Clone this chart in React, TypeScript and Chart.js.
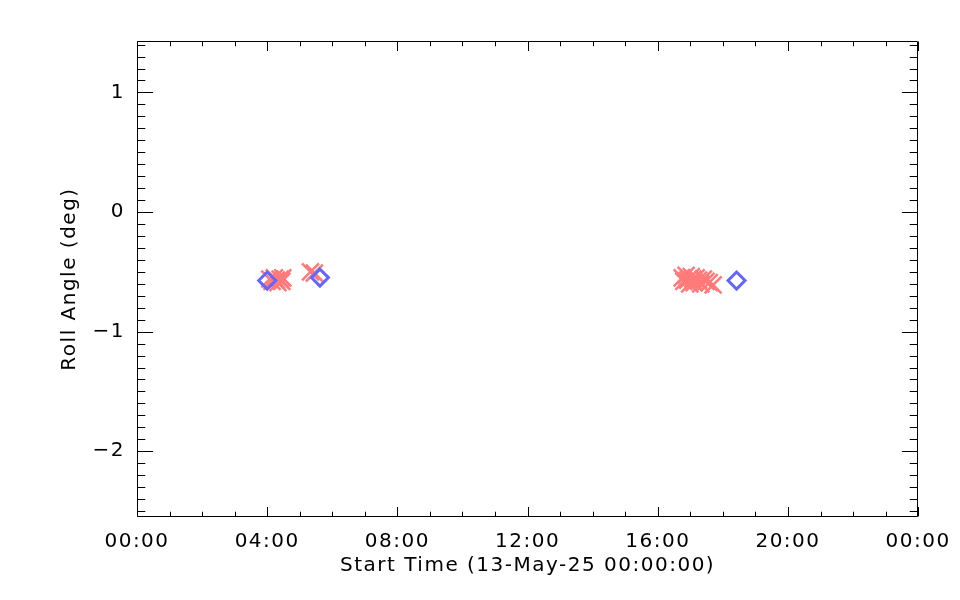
import React, { useEffect, useRef } from "react";
import { Chart, registerables } from "chart.js";

Chart.register(...registerables);

// Roll angle measurements (hours since 13-May-25 00:00:00, degrees)
const crossHours = [4.08, 4.15, 4.22, 4.28, 4.33, 4.4, 4.45, 4.48, 5.33, 5.45, 16.75, 16.8, 16.87, 16.92, 16.98, 17.03, 17.08, 17.12, 17.18, 17.25, 17.32, 17.4, 17.48, 17.58, 17.7];
const crossRoll = [-0.56, -0.58, -0.55, -0.57, -0.59, -0.56, -0.58, -0.55, -0.5, -0.51, -0.55, -0.58, -0.53, -0.57, -0.6, -0.54, -0.56, -0.59, -0.55, -0.57, -0.6, -0.56, -0.58, -0.59, -0.61];
const diamondHours = [4.0, 5.62, 18.42];
const diamondRoll = [-0.573, -0.548, -0.573];

const xTickValues = [0, 4, 8, 12, 16, 20, 24];
const xTickLabels = ["00:00", "04:00", "08:00", "12:00", "16:00", "20:00", "00:00"];
const yTickValues = [-2, -1, 0, 1];
const yTickLabels = ["\u22122", "\u22121", "0", "1"];
const xRange = [0, 24];
const yRange = [-2.55, 1.43];

const FONT = "'DejaVu Sans', sans-serif";

const spacing = {
  id: "spacing",
  beforeDraw(chart: any) {
    chart.ctx.letterSpacing = "1.5px";
  },
  afterDraw(chart: any) {
    chart.ctx.letterSpacing = "0px";
  },
};

const frameTicks = {
  id: "frameTicks",
  afterDraw(chart: any) {
    const { ctx, chartArea, scales } = chart;
    const { left, right, top, bottom } = chartArea;
    const x = scales.x;
    const y = scales.y;
    ctx.save();
    ctx.strokeStyle = "#000";
    ctx.lineWidth = 1;
    const L = Math.round(left) + 0.5;
    const R = Math.round(right) - 0.5;
    const T = Math.round(top) + 0.5;
    const B = Math.round(bottom) - 0.5;
    ctx.beginPath();
    ctx.rect(L, T, R - L, B - T);
    const h = bottom - top;
    const w = right - left;
    for (let k = 0; k <= 24; k++) {
      const px = Math.round(x.getPixelForValue(k)) + 0.5;
      const len = k % 4 === 0 ? 0.02 * h : 0.01 * h;
      ctx.moveTo(px, B);
      ctx.lineTo(px, B - len);
      ctx.moveTo(px, T);
      ctx.lineTo(px, T + len);
    }
    for (let k = -25; k <= 14; k++) {
      const py = Math.round(y.getPixelForValue(k / 10)) + 0.5;
      const len = k % 10 === 0 ? 0.02 * w : 0.01 * w;
      ctx.moveTo(L, py);
      ctx.lineTo(L + len, py);
      ctx.moveTo(R, py);
      ctx.lineTo(R - len, py);
    }
    ctx.stroke();
    ctx.restore();
  },
};

export default function App() {
  const ref = useRef<HTMLCanvasElement>(null);
  useEffect(() => {
    if (!ref.current) return;
    const chart = new Chart(ref.current, {
      type: "scatter",
      data: {
        datasets: [
          {
            label: "diamonds",
            data: diamondHours.map((h, i) => ({ x: h, y: diamondRoll[i] })),
            pointStyle: "rectRot",
            pointRadius: 8.5,
            pointBorderWidth: 3,
            borderColor: "rgb(100,100,255)",
            backgroundColor: "rgba(0,0,0,0)",
            order: 0,
          },
          {
            label: "crosses",
            data: crossHours.map((h, i) => ({ x: h, y: crossRoll[i] })),
            pointStyle: "crossRot",
            pointRadius: 12,
            pointBorderWidth: 2.5,
            borderColor: "rgb(255,122,122)",
            backgroundColor: "rgb(255,122,122)",
            order: 1,
          },
        ],
      },
      options: {
        animation: false,
        responsive: false,
        events: [],
        layout: { padding: { top: 41, right: 41, left: 0, bottom: 0 } },
        plugins: { legend: { display: false }, tooltip: { enabled: false } },
        scales: {
          x: {
            type: "linear",
            min: xRange[0],
            max: xRange[1],
            grid: { display: false, drawTicks: false },
            border: { display: false },
            afterBuildTicks: (s: any) => {
              s.ticks = xTickValues.map((v) => ({ value: v }));
            },
            afterFit: (s: any) => {
              s.height = 83;
            },
            ticks: {
              autoSkip: false,
              maxRotation: 0,
              padding: 13,
              color: "#000",
              font: { family: FONT, size: 20 },
              callback: (v: any) => {
                const i = xTickValues.indexOf(Number(v));
                return i >= 0 ? xTickLabels[i] : "";
              },
            },
            title: {
              display: true,
              text: "Start Time (13-May-25 00:00:00)",
              color: "#000",
              font: { family: FONT, size: 20 },
              padding: { top: 0, bottom: 22 },
            },
          },
          y: {
            type: "linear",
            min: yRange[0],
            max: yRange[1],
            grid: { display: false, drawTicks: false },
            border: { display: false },
            afterBuildTicks: (s: any) => {
              s.ticks = yTickValues.map((v) => ({ value: v }));
            },
            afterFit: (s: any) => {
              s.width = 137;
            },
            ticks: {
              autoSkip: false,
              padding: 12,
              color: "#000",
              font: { family: FONT, size: 20 },
              callback: (v: any) => {
                const i = yTickValues.indexOf(Number(v));
                return i >= 0 ? yTickLabels[i] : "";
              },
            },
            title: {
              display: true,
              text: "Roll Angle (deg)",
              color: "#000",
              font: { family: FONT, size: 20 },
              padding: { top: 58, bottom: 0 },
            },
          },
        },
      },
      plugins: [spacing, frameTicks],
    });
    return () => chart.destroy();
  }, []);
  return (
    <div style={{ position: "absolute", left: 0, top: 0, width: 960, height: 600, background: "#fff" }}>
      <canvas ref={ref} width={960} height={600} />
    </div>
  );
}
